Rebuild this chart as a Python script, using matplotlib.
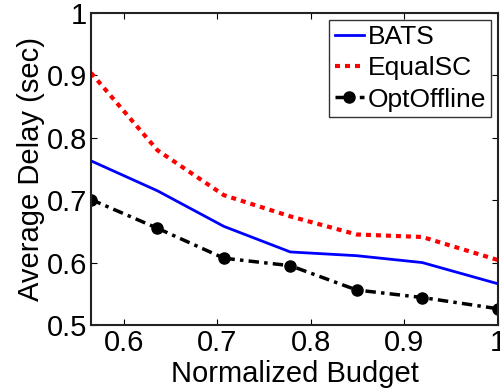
import matplotlib.pyplot as plt

plt.rcParams["font.family"] = ["Liberation Sans", "DejaVu Sans"]

# normalized budget levels
budget = [0.565, 0.636, 0.707, 0.778, 0.849, 0.919, 1.0]

# average delay (sec) per scheme
bats = [0.763, 0.715, 0.658, 0.617, 0.611, 0.600, 0.566]
equal_sc = [0.904, 0.780, 0.708, 0.674, 0.645, 0.641, 0.604]
opt_offline = [0.701, 0.655, 0.607, 0.595, 0.556, 0.544, 0.526]

fig = plt.figure(figsize=(5.0, 3.92), dpi=100)
ax = fig.add_axes([0.182, 0.171, 0.814, 0.796])

ax.plot(budget, bats, color="blue", linewidth=2, label="BATS")
ax.plot(budget, equal_sc, color="red", linewidth=3, linestyle=(0, (1.2, 1.2)),
        label="EqualSC")
ax.plot(budget, opt_offline, color="black", linewidth=2.5,
        linestyle=(0, (3, 1.5, 1, 1.5)), marker="o", markersize=8,
        label="OptOffline")

ax.set_xlim(0.565, 1.0)
ax.set_ylim(0.5, 1.0)
ax.set_xticks([0.6, 0.7, 0.8, 0.9, 1.0])
ax.set_xticklabels(["0.6", "0.7", "0.8", "0.9", "1"])
ax.set_yticks([0.5, 0.6, 0.7, 0.8, 0.9, 1.0])
ax.set_yticklabels(["0.5", "0.6", "0.7", "0.8", "0.9", "1"])
ax.tick_params(direction="in", length=4, labelsize=21, top=True, right=True, pad=3)
for spine in ax.spines.values():
    spine.set_linewidth(1.5)
    spine.set_color("#222222")

ax.set_xlabel("Normalized Budget", fontsize=21, labelpad=2)
ax.set_ylabel("Average Delay (sec)", fontsize=21, labelpad=1)

leg = ax.legend(loc="upper right", fontsize=19, frameon=True, fancybox=False,
                handlelength=1.1, handletextpad=0.15, borderpad=0.2,
                labelspacing=0.28, borderaxespad=0.25)
leg.get_frame().set_edgecolor("black")
leg.get_frame().set_linewidth(1.0)

fig.savefig("out.png", dpi=100)
